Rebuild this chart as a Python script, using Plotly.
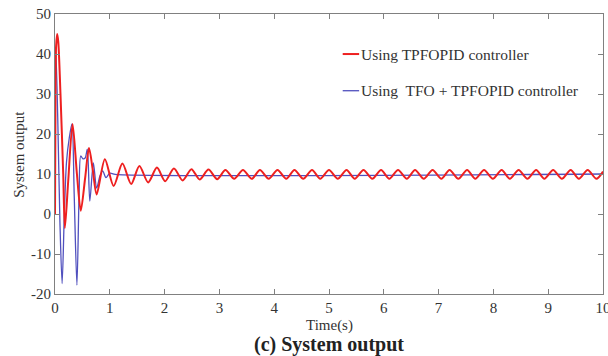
import plotly.graph_objects as go

# Red curve: Using TPFOPID controller (times in s)
red_t = [0.0, 0.008, 0.02, 0.04, 0.06, 0.10, 0.15, 0.18, 0.24, 0.32, 0.40, 0.47, 0.55, 0.62, 0.69, 0.76,
         0.91, 1.07, 1.23, 1.39, 1.54, 1.70, 1.86, 2.01, 2.17, 2.33, 2.49, 2.64, 2.80, 2.96,
         3.11, 3.27, 3.43, 3.59, 3.74, 3.90, 4.06, 4.22, 4.37, 4.53, 4.69, 4.84, 5.00, 5.16,
         5.32, 5.47, 5.63, 5.79, 5.95, 6.10, 6.26, 6.42, 6.57, 6.73, 6.89, 7.05, 7.20, 7.36,
         7.52, 7.67, 7.83, 7.99, 8.15, 8.30, 8.46, 8.62, 8.78, 8.93, 9.09, 9.25, 9.41, 9.56,
         9.72, 9.88, 10.0]
red_v = [0.0, 25.0, 42.0, 45.0, 43.0, 30.0, 10.0, -3.5, 8.0, 22.5, 10.0, 0.8, 9.0, 16.5, 11.0, 4.9,
         13.7, 7.0, 12.6, 7.5, 12.0, 7.9, 11.6, 8.2, 11.4, 8.4, 11.2, 8.6, 11.1, 8.7,
         11.0, 8.8, 11.0, 8.8, 11.0, 8.8, 11.0, 8.8, 11.0, 8.8, 11.0, 8.8, 11.0, 8.8,
         11.0, 8.8, 11.0, 8.8, 11.0, 8.8, 11.0, 8.8, 11.0, 8.8, 11.0, 8.8, 11.0, 8.8,
         11.0, 8.8, 11.0, 8.8, 11.0, 8.8, 11.0, 8.8, 11.0, 8.8, 11.0, 8.8, 11.0, 8.8,
         11.0, 8.8, 10.6]

# Blue curve: Using TFO + TPFOPID controller
blue_t = [0.0, 0.004, 0.015, 0.05, 0.09, 0.13, 0.17, 0.21, 0.26, 0.31, 0.35, 0.40, 0.44, 0.47,
          0.51, 0.55, 0.59, 0.635, 0.70, 0.76, 0.82, 0.87, 0.93, 1.0, 1.1, 10.0]
blue_v = [0.0, 30.0, 41.5, 24.0, -2.0, -17.4, 0.0, 13.0, 19.0, 22.5, 5.0, -17.8, 5.0, 14.5,
          13.8, 14.0, 16.2, 3.2, 12.8, 6.5, 9.5, 10.8, 9.1, 10.2, 9.9, 10.0]

legend_names = ["Using TPFOPID controller", "Using  TFO + TPFOPID controller"]
x_ticks = [0, 1, 2, 3, 4, 5, 6, 7, 8, 9, 10]
y_ticks = [-20, -10, 0, 10, 20, 30, 40, 50]

RED = "rgb(238,32,32)"
BLUE = "rgb(80,80,190)"
FONT = "Liberation Serif"

fig = go.Figure()
fig.add_trace(go.Scatter(x=blue_t, y=blue_v, mode="lines", name=legend_names[1],
                         line=dict(color=BLUE, width=1.3, shape="spline", smoothing=0.8)))
fig.add_trace(go.Scatter(x=red_t, y=red_v, mode="lines", name=legend_names[0],
                         line=dict(color=RED, width=2.0, shape="spline", smoothing=0.8)))

axis_common = dict(showgrid=False, zeroline=False, showline=True, linecolor="#808080",
                   linewidth=1, mirror="ticks", ticks="inside", ticklen=5, tickcolor="#808080",
                   automargin=False, ticklabeloverflow="allow",
                   tickfont=dict(family=FONT, size=15, color="#333333"))
fig.update_xaxes(range=[0, 10], tickvals=x_ticks, ticktext=[str(v) for v in x_ticks], **axis_common)
fig.update_yaxes(range=[-20, 50], tickvals=y_ticks, ticktext=[str(v) for v in y_ticks], **axis_common)

# Manual legend
for i, (name, col, w) in enumerate([(legend_names[0], RED, 2.0), (legend_names[1], BLUE, 1.3)]):
    yy = [0.857, 0.726][i]
    fig.add_shape(type="line", xref="paper", yref="paper", x0=0.525, x1=0.555, y0=yy, y1=yy,
                  line=dict(color=col, width=w))
    fig.add_annotation(xref="paper", yref="paper", x=0.555, y=yy, text=name, showarrow=False,
                       xanchor="left", yanchor="middle",
                       font=dict(family=FONT, size=15.5, color="#333333"))

fig.add_annotation(xref="paper", yref="paper", x=0.5, y=-0.074, text="Time(s)", showarrow=False,
                   xanchor="center", yanchor="top", font=dict(family=FONT, size=15, color="#333333"))
fig.add_annotation(xref="paper", yref="paper", x=0.5, y=-0.132, text="<b>(c) System output</b>",
                   showarrow=False, xanchor="center", yanchor="top",
                   font=dict(family=FONT, size=20, color="#222222"))
fig.add_annotation(xref="paper", yref="paper", x=-0.066, y=0.5, text="System output", showarrow=False,
                   textangle=-90, xanchor="center", yanchor="middle",
                   font=dict(family=FONT, size=15, color="#333333"))

fig.update_layout(width=608, height=356, showlegend=False,
                  margin=dict(l=55, r=5, t=14, b=62, autoexpand=False),
                  paper_bgcolor="white", plot_bgcolor="white")

fig.write_html("out.html", config={"displayModeBar": False},
               post_script="document.body.style.margin='0';document.body.style.overflow='hidden';")
